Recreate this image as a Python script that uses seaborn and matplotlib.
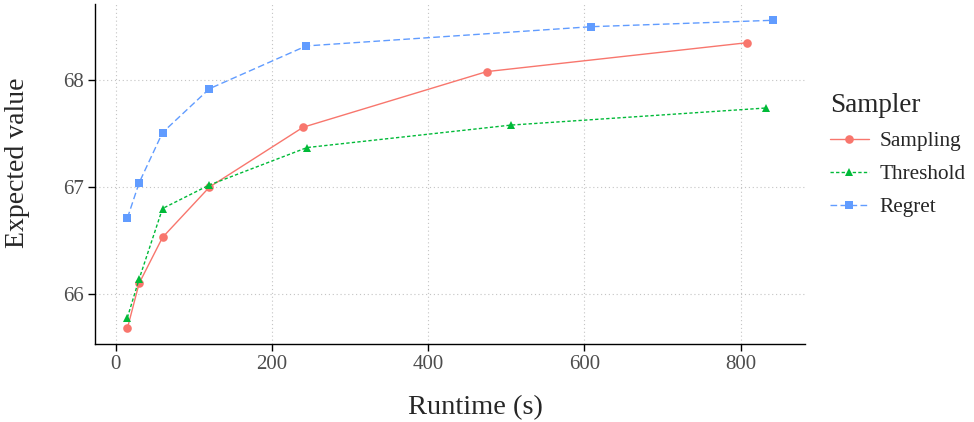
import numpy as np
import pandas as pd
import matplotlib
matplotlib.use("Agg")
import matplotlib.pyplot as plt
import seaborn as sns

# values
sampling_runtime = [15, 30, 60, 120, 240, 475, 808]
sampling_value = [65.68, 66.10, 66.53, 67.00, 67.56, 68.08, 68.35]

threshold_runtime = [15, 30, 60, 120, 245, 506, 833]
threshold_value = [65.78, 66.14, 66.80, 67.02, 67.37, 67.58, 67.74]

regret_runtime = [15, 30, 60, 120, 244, 609, 842]
regret_value = [66.71, 67.04, 67.51, 67.92, 68.32, 68.50, 68.56]

samplers = ["Sampling", "Threshold", "Regret"]
palette = {"Sampling": "#F8766D", "Threshold": "#00BA38", "Regret": "#619CFF"}

df = pd.concat([
    pd.DataFrame({"Runtime": sampling_runtime, "Value": sampling_value, "Sampler": "Sampling"}),
    pd.DataFrame({"Runtime": threshold_runtime, "Value": threshold_value, "Sampler": "Threshold"}),
    pd.DataFrame({"Runtime": regret_runtime, "Value": regret_value, "Sampler": "Regret"}),
], ignore_index=True)

sns.set_style("white")
plt.rcParams["font.family"] = ["Liberation Serif", "DejaVu Serif"]

fig = plt.figure(figsize=(9.74, 4.22), dpi=100)
ax = fig.add_axes([0.0975, 0.184, 0.7295, 0.806])

sns.lineplot(
    data=df, x="Runtime", y="Value", hue="Sampler", style="Sampler",
    hue_order=samplers, style_order=samplers, palette=palette,
    markers={"Sampling": "o", "Threshold": "^", "Regret": "s"},
    dashes={"Sampling": "", "Threshold": (2.4, 1.6), "Regret": (4.8, 2.4)},
    linewidth=1.0, markersize=6.2, markeredgewidth=0, sort=False, ax=ax,
)

ax.set_xlim(-26.5, 883)
ax.set_ylim(65.53, 68.71)
ax.set_xticks([0, 200, 400, 600, 800])
ax.set_yticks([66, 67, 68])
ax.grid(True, color="#C4C4C4", linestyle=(0, (1, 2.5)), linewidth=0.8)
ax.set_axisbelow(True)

for side in ["top", "right"]:
    ax.spines[side].set_visible(False)
for side in ["left", "bottom"]:
    ax.spines[side].set_color("black")
    ax.spines[side].set_linewidth(1.0)

ax.tick_params(axis="both", which="major", direction="out", length=5, width=1.0,
               bottom=True, left=True, color="black", labelcolor="#4D4D4D",
               labelsize=15, pad=3)
ax.set_xlabel("Runtime (s)", fontsize=20.5)
ax.set_ylabel("Expected value", fontsize=20)
# label positions (not centred on the panel there)
ax.xaxis.set_label_coords(0.536, -0.150)
ax.yaxis.set_label_coords(-0.0915, 0.533)

leg = ax.legend(title="Sampler", loc="upper left", bbox_to_anchor=(1.020, 0.770),
                frameon=False, fontsize=15.3, title_fontsize=19.5, borderpad=0,
                handlelength=1.8, handletextpad=0.52, labelspacing=0.62,
                alignment="left")
for h in leg.legend_handles:
    h.set_markersize(6.2)

fig.savefig("out.png", dpi=100)
